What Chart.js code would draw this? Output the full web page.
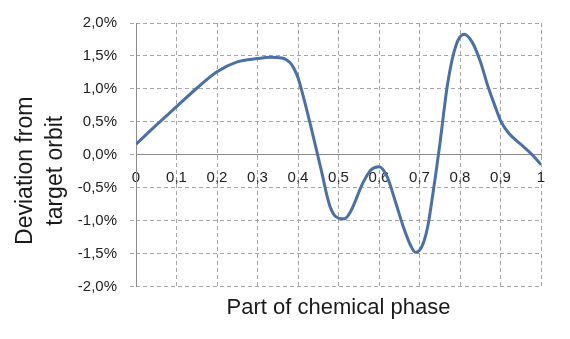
<!DOCTYPE html>
<html>
<head>
<meta charset="utf-8">
<script src="https://cdn.jsdelivr.net/npm/chart.js@4.4.1/dist/chart.umd.min.js"></script>
<style>
  html, body { margin: 0; padding: 0; background: #ffffff; }
  #wrap { width: 570px; height: 339px; position: relative; }
</style>
</head>
<body>
<div id="wrap"><canvas id="c" width="570" height="339"></canvas></div>
<script>
// Data (x = part of chemical phase, y = deviation in %)
const phase = [0, 0.05, 0.1, 0.15, 0.2, 0.25, 0.3, 0.33, 0.36, 0.38, 0.39, 0.4, 0.42, 0.44, 0.46, 0.47, 0.48, 0.49, 0.5, 0.515, 0.53, 0.56, 0.58, 0.6, 0.62, 0.64, 0.66, 0.68, 0.69, 0.7, 0.71, 0.72, 0.73, 0.74, 0.75, 0.77, 0.79, 0.81, 0.83, 0.85, 0.87, 0.89, 0.9, 0.92, 0.95, 0.98, 1.0];
const deviation = [0.16, 0.45, 0.73, 1.01, 1.26, 1.41, 1.46, 1.48, 1.47, 1.40, 1.31, 1.17, 0.72, 0.22, -0.30, -0.58, -0.80, -0.92, -0.96, -0.97, -0.86, -0.43, -0.23, -0.18, -0.33, -0.70, -1.09, -1.40, -1.48, -1.45, -1.33, -1.10, -0.72, -0.30, 0.15, 1.10, 1.66, 1.83, 1.71, 1.42, 1.02, 0.68, 0.52, 0.33, 0.16, -0.01, -0.15];
const xTicks = [0, 0.1, 0.2, 0.3, 0.4, 0.5, 0.6, 0.7, 0.8, 0.9, 1];
const yTicks = [-2.0, -1.5, -1.0, -0.5, 0.0, 0.5, 1.0, 1.5, 2.0];
const xTitle = 'Part of chemical phase';
const yTitle = ['Deviation from     ', 'target orbit     '];

const points = phase.map((x, i) => ({ x: x, y: deviation[i] }));
const gridColor = '#a6a6a6';
const axisColor = '#8c8c8c';
const tickFont = { family: 'Liberation Sans', size: 15 };
const xMin = xTicks[0], xMax = xTicks[xTicks.length - 1];
const yMin = yTicks[0], yMax = yTicks[yTicks.length - 1];

new Chart(document.getElementById('c'), {
  type: 'line',
  data: {
    datasets: [{
      data: points,
      borderColor: '#4a70a8',
      borderWidth: 3,
      pointRadius: 0,
      cubicInterpolationMode: 'monotone',
      fill: false
    }]
  },
  options: {
    responsive: false,
    animation: false,
    layout: { padding: { top: 23, right: 29, left: 0, bottom: 0 } },
    plugins: { legend: { display: false }, tooltip: { enabled: false } },
    scales: {
      x: {
        type: 'linear',
        position: { y: 0 },
        min: xMin,
        max: xMax,
        afterBuildTicks: s => { s.ticks = xTicks.map(v => ({ value: v })); },
        ticks: {
          font: tickFont,
          color: '#222222',
          padding: 8,
          maxRotation: 0,
          autoSkip: false,
          callback: v => {
            const r = Math.round(v * 10) / 10;
            return (r === 0 || r === 1) ? String(r) : r.toFixed(1).replace('.', ',');
          }
        },
        grid: { color: gridColor, tickLength: 6, tickBorderDash: [4, 3] },
        border: { display: false, dash: [4, 3] }
      },
      xAxisLine: {
        type: 'linear',
        position: { y: 0 },
        min: xMin,
        max: xMax,
        ticks: { display: false },
        grid: { display: false, drawTicks: false },
        border: { display: true, color: axisColor, width: 1 }
      },
      x2: {
        type: 'linear',
        position: 'bottom',
        min: xMin,
        max: xMax,
        ticks: { display: false },
        grid: { display: false, drawTicks: false },
        border: { display: false },
        title: {
          display: true,
          text: xTitle,
          color: '#1a1a1a',
          font: { family: 'Liberation Sans', size: 22 },
          padding: { top: 8, bottom: 18 }
        }
      },
      y: {
        type: 'linear',
        position: 'left',
        weight: 1,
        min: yMin,
        max: yMax,
        afterBuildTicks: s => { s.ticks = yTicks.map(v => ({ value: v })); },
        afterFit: s => { s.width = 136; },
        ticks: {
          font: tickFont,
          color: '#222222',
          padding: 13,
          callback: v => v.toFixed(1).replace('.', ',') + '%'
        },
        grid: { color: gridColor, tickLength: 6, tickBorderDash: [4, 3] },
        border: { display: false, dash: [4, 3] },
        title: {
          display: true,
          text: yTitle,
          color: '#1a1a1a',
          font: { family: 'Liberation Sans', size: 23, lineHeight: 1.3 },
          padding: { top: 11, bottom: 0 }
        }
      },
      yAxisLine: {
        type: 'linear',
        position: 'left',
        weight: -5,
        min: yMin,
        max: yMax,
        afterFit: s => { s.width = 0; },
        ticks: { display: false },
        grid: { display: false, drawTicks: false },
        border: { display: true, color: axisColor, width: 1 }
      }
    }
  }
});
</script>
</body>
</html>
